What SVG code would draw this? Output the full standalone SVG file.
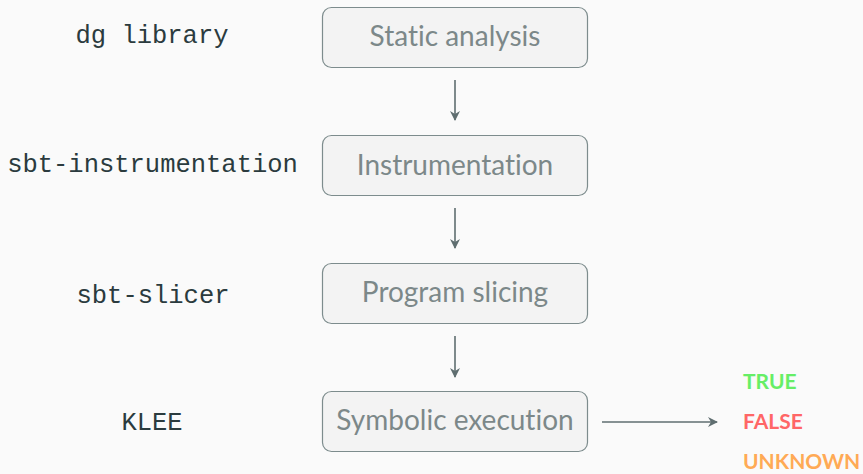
<svg xmlns="http://www.w3.org/2000/svg" width="863" height="474" viewBox="0 0 863 474">
<defs>
<marker id="ah" viewBox="0 0 10 10" refX="9" refY="5" markerWidth="10" markerHeight="10" markerUnits="userSpaceOnUse" orient="auto">
<path d="M0,0 L10,5 L0,10 L3,5 Z" fill="#5f6e70"/>
</marker>
<style>
.box{fill:#f3f3f3;stroke:#7d8c8d;stroke-width:1.2}
.bt{font-family:"Lato","Liberation Sans",sans-serif;font-size:28px;fill:#7c8889;text-anchor:middle;font-variant-ligatures:none;font-feature-settings:"liga" 0}
.tool{font-family:"Liberation Mono","DejaVu Sans Mono",monospace;font-size:25.5px;fill:#2b3b3e;text-anchor:middle}
.edge{stroke:#5f6e70;stroke-width:1.6;fill:none;marker-end:url(#ah)}
.res{font-family:"Lato","Liberation Sans",sans-serif;font-size:21px;font-weight:bold}
</style>
</defs>
<rect width="863" height="474" fill="#fafafa"/>
<g id="static">
<rect class="box" x="322.5" y="7.5" width="265" height="60" rx="9"/>
<text class="bt" x="455" y="46">Static analysis</text>
</g>
<g id="instr">
<rect class="box" x="322.5" y="135.5" width="265" height="60" rx="9"/>
<text class="bt" x="455" y="175">Instrumentation</text>
</g>
<g id="slicing">
<rect class="box" x="322.5" y="263.5" width="265" height="60" rx="9"/>
<text class="bt" x="455" y="302">Program slicing</text>
</g>
<g id="symexec">
<rect class="box" x="322.5" y="391.5" width="265" height="60" rx="9"/>
<text class="bt" x="455" y="430">Symbolic execution</text>
</g>
<g id="tools">
<text class="tool" x="152" y="43">dg library</text>
<text class="tool" x="152.5" y="172">sbt-instrumentation</text>
<text class="tool" x="153" y="303">sbt-slicer</text>
<text class="tool" x="152" y="430">KLEE</text>
</g>
<g id="results">
<text class="res" x="743" y="389" fill="#66ee66">TRUE</text>
<text class="res" x="743" y="429" fill="#ff6666">FALSE</text>
<text class="res" x="743" y="469" fill="#ffaa55">UNKNOWN</text>
</g>
<g id="connectors">
<line class="edge" x1="455" y1="80" x2="455" y2="120"/>
<line class="edge" x1="455" y1="208" x2="455" y2="248"/>
<line class="edge" x1="455" y1="336" x2="455" y2="377"/>
<line class="edge" x1="602" y1="422" x2="717" y2="422"/>
</g>
</svg>
